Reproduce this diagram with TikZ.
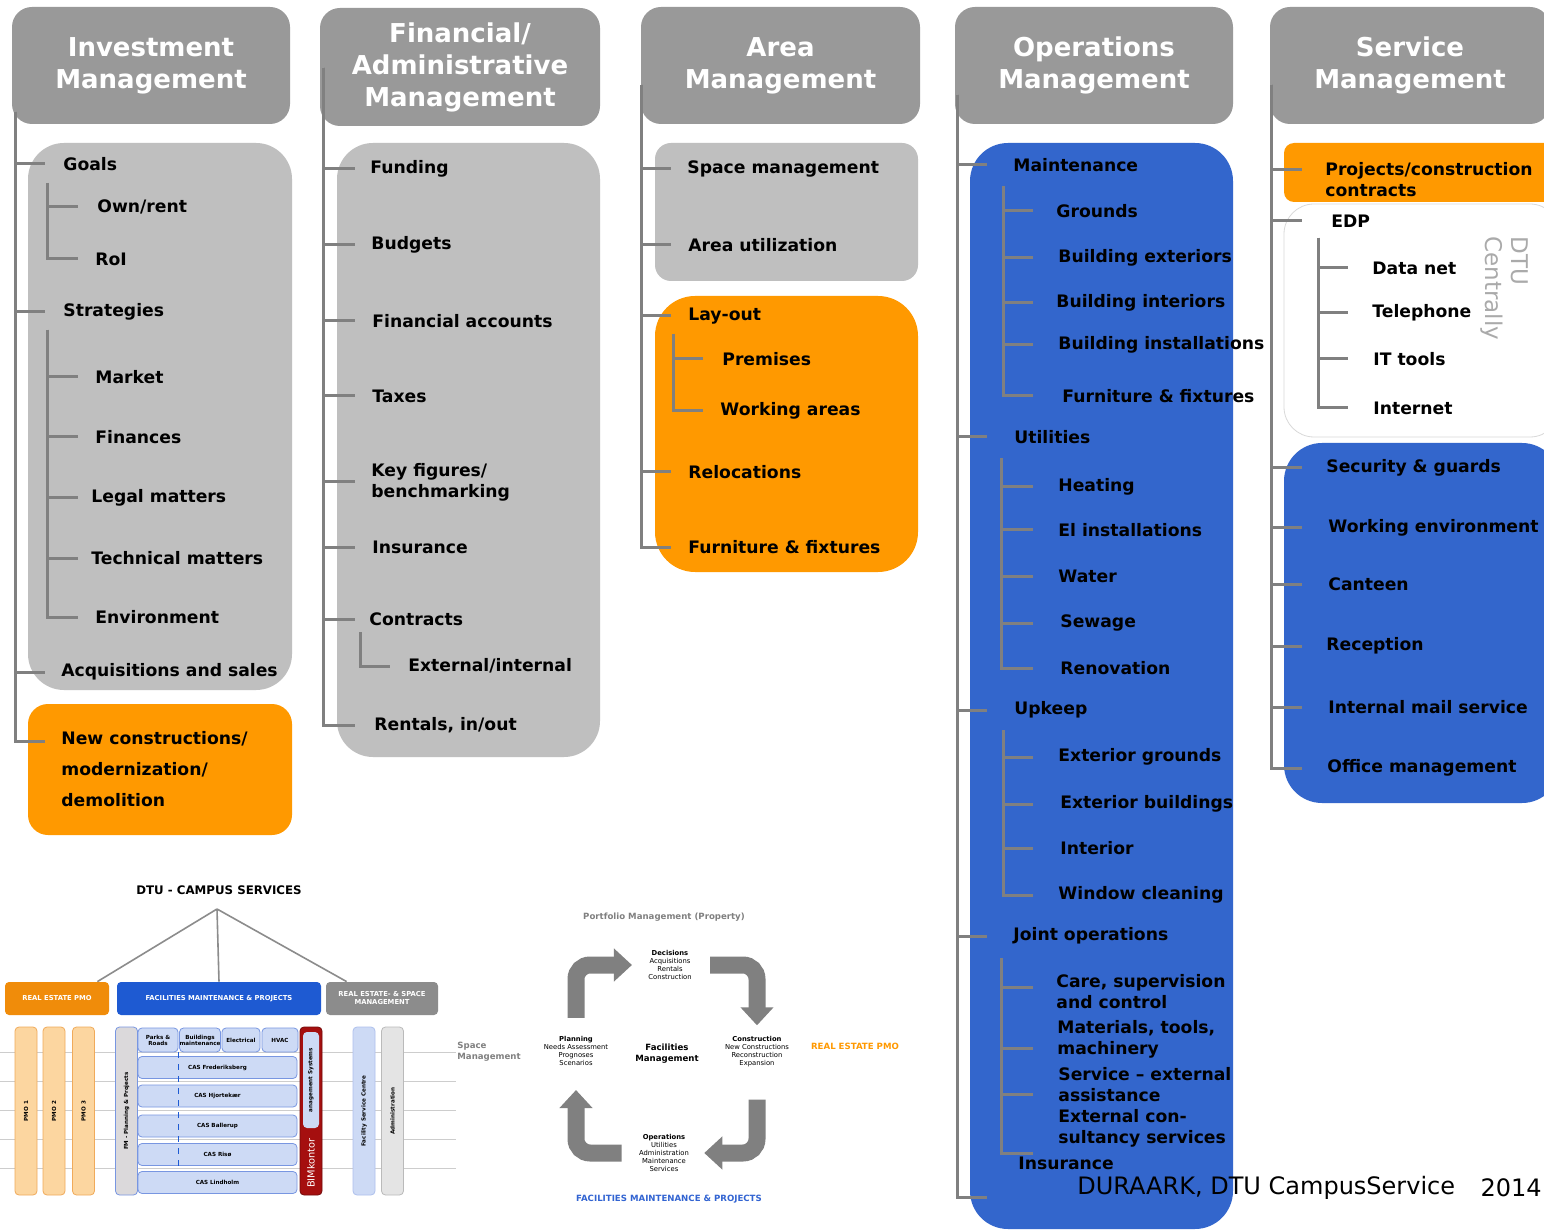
\documentclass[tikz,border=0pt]{standalone}
\usepackage{fontspec}
\setmainfont{DejaVu Sans}
\usetikzlibrary{arrows.meta}
\definecolor{headgray}{RGB}{153,153,153}
\definecolor{panelgray}{RGB}{191,191,191}
\definecolor{treegray}{RGB}{128,128,128}
\definecolor{fmorange}{RGB}{255,153,0}
\definecolor{fmblue}{RGB}{51,102,204}
\definecolor{rimgray}{RGB}{217,217,217}
\definecolor{notegray}{RGB}{170,170,170}
\definecolor{orgorange}{RGB}{240,140,10}
\definecolor{orgblue}{RGB}{30,90,210}
\definecolor{orggray}{RGB}{140,140,140}
\definecolor{pmofill}{RGB}{252,214,160}
\definecolor{pmoedge}{RGB}{240,170,90}
\definecolor{casfill}{RGB}{205,218,245}
\definecolor{casedge}{RGB}{120,150,225}
\definecolor{bimred}{RGB}{165,15,15}
\definecolor{admfill}{RGB}{228,228,228}
\definecolor{gridgray}{RGB}{205,205,205}
\definecolor{labelblue}{RGB}{50,100,210}

\begin{document}
\begin{tikzpicture}[x=0.5pt, y=-0.5pt,
    head/.style={rectangle, rounded corners=10pt, fill=headgray, text=white, align=center,
        inner sep=0pt, minimum width=139pt, minimum height=58.5pt,
        font=\bfseries\fontsize{13}{16}\selectfont},
    item/.style={anchor=west, inner sep=0pt, align=left,
        font=\bfseries\fontsize{8.6}{10.5}\selectfont},
    tree/.style={draw=treegray, line width=1.5pt},
    orghead/.style={rectangle, rounded corners=2pt, text=white, align=center, inner sep=0pt,
        minimum height=16.5pt, font=\bfseries\fontsize{3.4}{4}\selectfont},
    bar/.style={rectangle, rounded corners=2pt, rotate=90, inner sep=0pt, minimum width=84pt,
        minimum height=11pt, line width=0.4pt, font=\bfseries\fontsize{2.8}{3}\selectfont},
    casrow/.style={rectangle, rounded corners=2pt, fill=casfill, draw=casedge, line width=0.4pt,
        inner sep=0pt, minimum width=79.5pt, minimum height=11pt, align=center,
        font=\bfseries\fontsize{2.8}{3}\selectfont},
    cyc/.style={draw=treegray, line width=8.5pt, rounded corners=7pt,
        -{Triangle[width=16pt,length=9pt]}},
    cyctext/.style={align=center, inner sep=0pt, font=\fontsize{3.4}{4}\selectfont},
    gtitle/.style={inner sep=0pt, font=\bfseries\fontsize{4.3}{5.5}\selectfont}
]
\useasboundingbox (0,0) rectangle (1544,1230);
\clip (0,0) rectangle (1544,1230);
\fill[white] (0,0) rectangle (1544,1230);

% Column headers
\node[head] (h-inv) at (151,65.5) {Investment\\Management};
\node[head, minimum width=140pt, minimum height=59pt] (h-fin) at (460,67) {Financial/\\Administrative\\Management};
\node[head, minimum width=139.5pt] (h-area) at (780.5,65.5) {Area\\Management};
\node[head] (h-ops) at (1094,65.5) {Operations\\Management};
\node[head, minimum width=140pt] (h-srv) at (1410,65.5) {Service\\Management};

% Panels
\fill[panelgray, rounded corners=18pt] (28,143) rectangle (292,690);
\fill[fmorange, rounded corners=10pt] (28,704) rectangle (292,835);
\fill[panelgray, rounded corners=18pt] (337,143) rectangle (600,757);
\fill[panelgray, rounded corners=8pt] (655,143) rectangle (918,281);
\fill[fmorange, rounded corners=20pt] (655,296) rectangle (918,572);
\fill[fmblue, rounded corners=19pt] (970,143) rectangle (1233,1229);
\fill[fmorange, rounded corners=5pt] (1284,143) rectangle (1560,202);
\draw[rimgray, fill=white, rounded corners=15pt] (1284,204) rectangle (1560,437);
\fill[fmblue, rounded corners=19pt] (1284,443) rectangle (1560,803);

% Investment management
\node[item] (goals) at (63,164) {Goals};
\node[item] (ownrent) at (97,207) {Own/rent};
\node[item] (roi) at (95,259) {RoI};
\node[item] (strat) at (63,312) {Strategies};
\node[item] (market) at (95,377) {Market};
\node[item] (finances) at (95,437) {Finances};
\node[item] (legal) at (91,498) {Legal matters};
\node[item] (technical) at (91,558) {Technical matters};
\node[item] (environ) at (95,617) {Environment};
\node[item] (acq) at (61,672) {Acquisitions and sales};
\node[item, font=\bfseries\fontsize{8.6}{15.5}\selectfont] (newcon) at (61,769) {New constructions/\\modernization/\\demolition};

\coordinate (inv-top) at (15,112);
\coordinate (inv-tip) at (45,0);
\coordinate (newcon-b) at (45,741);
\coordinate (goals-sub) at (47,183);
\coordinate (strat-sub) at (47,330);
\coordinate (inv-subtip) at (78,0);
\foreach \n in {goals,strat,acq} \draw[tree] (inv-top) |- (\n.west -| inv-tip);
\draw[tree] (inv-top) |- (newcon-b);
\foreach \n in {ownrent,roi} \draw[tree] (goals-sub) |- (\n.west -| inv-subtip);
\foreach \n in {market,finances,legal,technical,environ} \draw[tree] (strat-sub) |- (\n.west -| inv-subtip);

% Financial / administrative management
\node[item] (funding) at (370,169) {Funding};
\node[item] (budgets) at (371,245) {Budgets};
\node[item] (finacc) at (372,321) {Financial accounts};
\node[item] (taxes) at (372,396) {Taxes};
\node[item] (keyfig) at (371,482) {Key figures/\\benchmarking};
\node[item] (insur) at (372,547) {Insurance};
\node[item] (contracts) at (369,619) {Contracts};
\node[item] (extint) at (408,666) {External/internal};
\node[item] (rentals) at (374,725) {Rentals, in/out};

\coordinate (fin-top) at (323,68);
\coordinate (fin-tip) at (355,0);
\coordinate (contr-sub) at (360,632);
\coordinate (fin-subtip) at (390,0);
\foreach \n in {funding,budgets,finacc,taxes,keyfig,insur,contracts,rentals} \draw[tree] (fin-top) |- (\n.west -| fin-tip);
\draw[tree] (contr-sub) |- (extint.west -| fin-subtip);

% Area management
\node[item] (spacem) at (687,169) {Space management};
\node[item] (areautil) at (688,245) {Area utilization};
\node[item] (layout) at (688,316) {Lay-out};
\node[item] (premises) at (722,359) {Premises};
\node[item] (workareas) at (720,411) {Working areas};
\node[item] (reloc) at (688,472) {Relocations};
\node[item] (furnA) at (688,547) {Furniture \& fixtures};

\coordinate (area-top) at (641,85);
\coordinate (area-tip) at (671,0);
\coordinate (layout-sub) at (673,334);
\coordinate (area-subtip) at (703,0);
\foreach \n in {spacem,areautil,layout,reloc,furnA} \draw[tree] (area-top) |- (\n.west -| area-tip);
\foreach \n in {premises,workareas} \draw[tree] (layout-sub) |- (\n.west -| area-subtip);

% Operations management
\node[item] (maint) at (1013,165) {Maintenance};
\node[item] (grounds) at (1056,211) {Grounds};
\node[item] (bext) at (1058,258) {Building exteriors};
\node[item] (bint) at (1056,303) {Building interiors};
\node[item] (binst) at (1058,345) {Building installations};
\node[item] (furnO) at (1062,396) {Furniture \& fixtures};
\node[item] (util) at (1014,437) {Utilities};
\node[item] (heating) at (1058,487) {Heating};
\node[item] (elinst) at (1058,530) {El installations};
\node[item] (water) at (1058,576) {Water};
\node[item] (sewage) at (1060,623) {Sewage};
\node[item] (renov) at (1060,668) {Renovation};
\node[item] (upkeep) at (1014,710) {Upkeep};
\node[item] (extgr) at (1058,757) {Exterior grounds};
\node[item] (extbld) at (1060,804) {Exterior buildings};
\node[item] (interior) at (1060,848) {Interior};
\node[item] (window) at (1058,895) {Window cleaning};
\node[item] (joint) at (1013,936) {Joint operations};
\node[item] (care) at (1056,992) {Care, supervision\\and control};
\node[item] (materials) at (1057,1039) {Materials, tools,\\machinery};
\node[item] (service) at (1058,1085) {Service – external\\assistance};
\node[item] (extcons) at (1058,1128) {External con-\\sultancy services};
\node[item] (insurO) at (1018,1163) {Insurance};

\coordinate (ops-top) at (957,95);
\coordinate (ops-tip) at (987,0);
\coordinate (insur-b) at (987,1197);
\coordinate (maint-sub) at (1003,186);
\coordinate (util-sub) at (1001,458);
\coordinate (upkeep-sub) at (1003,730);
\coordinate (joint-sub) at (1001,958);
\coordinate (ops-subtip) at (1033,0);
\foreach \i/\y in {1/987,2/1048,3/1094,4/1153} \coordinate (jb\i) at (1033,\y);
\foreach \n in {maint,util,upkeep,joint} \draw[tree] (ops-top) |- (\n.west -| ops-tip);
\draw[tree] (ops-top) |- (insur-b);
\foreach \n in {grounds,bext,bint,binst,furnO} \draw[tree] (maint-sub) |- (\n.west -| ops-subtip);
\foreach \n in {heating,elinst,water,sewage,renov} \draw[tree] (util-sub) |- (\n.west -| ops-subtip);
\foreach \n in {extgr,extbld,interior,window} \draw[tree] (upkeep-sub) |- (\n.west -| ops-subtip);
\foreach \i in {1,...,4} \draw[tree] (joint-sub) |- (jb\i);

% Service management
\node[item] (projects) at (1325,180) {Projects/construction\\contracts};
\node[item] (edp) at (1331,221) {EDP};
\node[item] (datanet) at (1372,268) {Data net};
\node[item] (telephone) at (1372,313) {Telephone};
\node[item] (ittools) at (1373,359) {IT tools};
\node[item] (internet) at (1373,408) {Internet};
\node[rotate=-90, anchor=north west, align=left, inner sep=0pt, text=notegray,
    font=\fontsize{11.5}{13}\selectfont] (dtucent) at (1529,236) {DTU\\Centrally};
\node[item] (security) at (1326,468) {Security \& guards};
\node[item] (workenv) at (1328,528) {Working environment};
\node[item] (canteen) at (1328,584) {Canteen};
\node[item] (reception) at (1326,646) {Reception};
\node[item] (mail) at (1328,707) {Internal mail service};
\node[item] (office) at (1327,768) {Office management};

\coordinate (srv-top) at (1271,85);
\coordinate (srv-tip) at (1302,0);
\coordinate (proj-b) at (1302,170);
\coordinate (edp-sub) at (1318,238);
\coordinate (srv-subtip) at (1348,0);
\draw[tree] (srv-top) |- (proj-b);
\foreach \n in {edp,security,workenv,canteen,reception,mail,office} \draw[tree] (srv-top) |- (\n.west -| srv-tip);
\foreach \n in {datanet,telephone,ittools,internet} \draw[tree] (edp-sub) |- (\n.west -| srv-subtip);

% Organisation chart
\foreach \y in {1052,1081,1110,1139,1168} \draw[gridgray, line width=0.5pt] (0,\y) -- (456,\y);
\node[inner sep=0pt, font=\bfseries\fontsize{5.9}{6.5}\selectfont] (dtucs) at (219,890) {DTU - CAMPUS SERVICES};
\coordinate (org-top) at (217,909);
\node[orghead, fill=orgorange, minimum width=52pt] (pmo) at (57,998.5) {REAL ESTATE PMO};
\node[orghead, fill=orgblue, minimum width=102pt] (fmp) at (219,998.5) {FACILITIES MAINTENANCE \& PROJECTS};
\node[orghead, fill=orggray, minimum width=56pt] (resm) at (382,998.5) {REAL ESTATE- \& SPACE\\MANAGEMENT};
\draw[orggray, line width=0.8pt] (org-top) -- ([xshift=-6pt]pmo.north east);
\draw[orggray, line width=0.8pt] (org-top) -- (fmp.north);
\draw[orggray, line width=0.8pt] (org-top) -- ([xshift=10.5pt]resm.north west);

\node[bar, fill=pmofill, draw=pmoedge] (pmo1) at (26,1111) {PMO 1};
\node[bar, fill=pmofill, draw=pmoedge] (pmo2) at (54,1111) {PMO 2};
\node[bar, fill=pmofill, draw=pmoedge] (pmo3) at (83.5,1111) {PMO 3};
\node[bar, fill=casfill!70!pmofill, draw=casedge] (fmplan) at (126.5,1111) {FM - Planning \& Projects};
\node[casrow, minimum width=20pt, minimum height=12pt] (roads) at (158,1040) {Parks \&\\Roads};
\node[casrow, minimum width=20pt, minimum height=12pt] (bmaint) at (200,1040) {Buildings\\maintenance};
\node[casrow, minimum width=19pt, minimum height=12pt] (elec) at (241,1040) {Electrical};
\node[casrow, minimum width=18pt, minimum height=12pt] (hvac) at (280,1040) {HVAC};
\node[casrow] (cas1) at (217.5,1067.5) {CAS Frederiksberg};
\node[casrow] (cas2) at (217.5,1096) {CAS Hjortekær};
\node[casrow] (cas3) at (217.5,1126) {CAS Ballerup};
\node[casrow] (cas4) at (217.5,1154.5) {CAS Risø};
\node[casrow] (cas5) at (217.5,1182.5) {CAS Lindholm};
\draw[orgblue, dashed, line width=0.5pt] (roads.south east) -- (roads.south east |- cas4.south);
\node[bar, fill=bimred, draw=bimred!70!black] (bim) at (311,1111) {};
\node[bar, fill=casfill, minimum width=48pt, minimum height=8pt] (mgmtsys) at (311,1080) {anagement Systems};
\node[rotate=90, inner sep=0pt, text=white, font=\fontsize{4.9}{5}\selectfont] (bimk) at (311,1163) {BIMkontor};
\node[bar, fill=casfill, draw=casedge!60] (fsc) at (364,1111) {Facility Service Centre};
\node[bar, fill=admfill, draw=orggray!60] (admin) at (392.5,1111) {Administration};

% Facilities management cycle
\node[gtitle, text=treegray] (portf) at (664,917) {Portfolio Management (Property)};
\node[cyctext] (dec) at (670,965) {\textbf{Decisions}\\Acquisitions\\Rentals\\Construction};
\node[cyctext] (plan) at (576,1051) {\textbf{Planning}\\Needs Assessment\\Prognoses\\Scenarios};
\node[cyctext] (cons) at (757,1052) {\textbf{Construction}\\New Constructions\\Reconstruction\\Expansion};
\node[cyctext] (oper) at (664,1153) {\textbf{Operations}\\Utilities\\Administration\\Maintenance\\Services};
\node[gtitle, align=center] (fmc) at (667,1053.5) {Facilities\\Management};
\node[gtitle, text=treegray, align=left, anchor=west] (spaceman) at (457,1051.5) {Space\\Management};
\node[gtitle, text=fmorange] (repmo) at (855,1046) {REAL ESTATE PMO};
\node[gtitle, text=labelblue] (fmproj) at (669,1199) {FACILITIES MAINTENANCE \& PROJECTS};
\draw[cyc] ([yshift=9pt]plan.north) |- ([xshift=-8pt]dec.west);
\draw[cyc] ([xshift=9pt]dec.east) -| ([yshift=5.5pt]cons.north);
\draw[cyc] ([yshift=-16pt]cons.south) |- ([xshift=7.5pt]oper.east);
\draw[cyc] ([xshift=-8.5pt]oper.west) -| ([yshift=-12pt]plan.south);

% Footer
\node[anchor=west, inner sep=0pt, font=\fontsize{12}{14}\selectfont] (footer) at (1077,1188) {DURAARK, DTU CampusService};
\node[anchor=east, inner sep=0pt, font=\fontsize{12}{14}\selectfont] (year) at (1542,1188) {2014};

\end{tikzpicture}
\end{document}
